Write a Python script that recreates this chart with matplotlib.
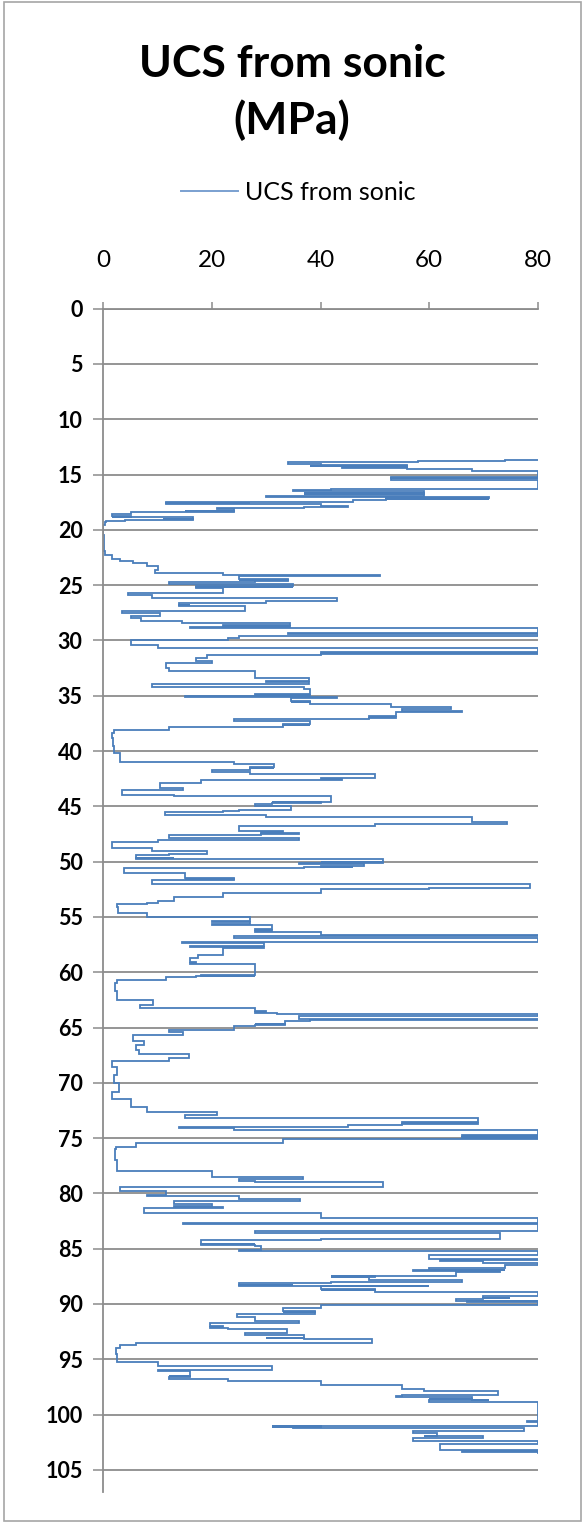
import matplotlib
matplotlib.use("Agg")
import matplotlib.pyplot as plt
from matplotlib.patches import Rectangle

# ---------------- data ----------------
depth = [13.7, 13.75, 13.85, 14.05, 14.15, 14.2, 14.25, 14.3, 14.4, 14.5, 14.7, 14.95, 15.2, 15.3, 15.35,
         15.45, 15.5, 16.3, 16.4, 16.5, 16.65, 16.7, 16.75, 16.8, 16.9, 17.0, 17.15, 17.2, 17.25, 17.3,
         17.45, 17.55, 17.6, 17.65, 17.7, 17.8, 17.9, 18.0, 18.1, 18.25, 18.3, 18.35, 18.4, 18.6, 18.75,
         18.8, 18.85, 19.0, 19.05, 19.1, 19.2, 19.3, 19.6, 20.5, 21.9, 22.3, 22.6, 22.8, 23.0, 23.3,
         23.6, 23.9, 24.1, 24.2, 24.45, 24.5, 24.55, 24.6, 24.7, 24.9, 25.1, 25.15, 25.2, 25.3, 25.7,
         25.9, 26.2, 26.4, 26.6, 26.75, 26.8, 26.9, 27.0, 27.3, 27.5, 27.8, 28.0, 28.2, 28.4, 28.6,
         28.7, 28.8, 28.9, 29.3, 29.45, 29.6, 29.8, 30.0, 30.4, 30.7, 31.0, 31.1, 31.2, 31.3, 31.6,
         31.9, 32.0, 32.5, 32.8, 33.4, 33.7, 33.8, 33.9, 34.2, 34.4, 34.8, 34.9, 35.0, 35.1, 35.2,
         35.45, 35.55, 35.6, 35.7, 36.0, 36.2, 36.35, 36.5, 36.85, 36.9, 37.0, 37.1, 37.3, 37.55, 37.6,
         37.65, 37.8, 38.1, 38.4, 38.8, 39.5, 40.2, 41.0, 41.2, 41.45, 41.5, 41.55, 41.7, 41.9, 42.1,
         42.4, 42.5, 42.6, 42.9, 43.3, 43.5, 44.0, 44.1, 44.6, 44.65, 44.7, 44.8, 45.0, 45.3, 45.4,
         45.5, 45.8, 46.0, 46.4, 46.6, 46.8, 47.2, 47.3, 47.4, 47.5, 47.6, 47.9, 48.0, 48.2, 48.8,
         49.0, 49.3, 49.4, 49.65, 49.7, 49.75, 49.8, 50.0, 50.05, 50.1, 50.2, 50.4, 50.45, 50.5, 50.6,
         51.0, 51.5, 51.55, 51.6, 51.65, 52.0, 52.4, 52.5, 52.7, 52.8, 53.2, 53.6, 53.7, 53.8, 54.1,
         54.6, 55.0, 55.4, 55.5, 55.6, 55.7, 56.1, 56.2, 56.3, 56.4, 56.6, 56.75, 56.9, 57.3, 57.4,
         57.65, 57.7, 57.8, 58.0, 58.4, 58.7, 59.1, 59.2, 59.3, 60.25, 60.3, 60.35, 60.4, 60.7, 61.0,
         61.7, 62.5, 63.0, 63.2, 63.5, 63.6, 63.7, 63.8, 64.0, 64.2, 64.3, 64.4, 64.65, 64.7, 64.8,
         64.9, 65.2, 65.4, 65.7, 66.2, 66.6, 67.0, 67.4, 67.8, 68.0, 68.6, 69.3, 70.0, 70.8, 71.5,
         72.2, 72.6, 72.9, 73.2, 73.5, 73.6, 73.7, 73.8, 74.0, 74.1, 74.3, 74.7, 74.8, 74.9, 75.0,
         75.1, 75.4, 75.8, 76.0, 77.0, 78.0, 78.5, 78.7, 78.9, 79.0, 79.4, 79.8, 80.15, 80.2, 80.25,
         80.5, 80.7, 81.0, 81.1, 81.2, 81.3, 81.8, 82.2, 82.7, 82.8, 83.4, 83.6, 84.1, 84.2, 84.55,
         84.6, 84.65, 84.8, 85.15, 85.2, 85.25, 85.6, 85.95, 86.0, 86.15, 86.3, 86.5, 86.7, 86.9, 86.95,
         87.0, 87.1, 87.45, 87.5, 87.55, 87.6, 87.8, 88.0, 88.1, 88.25, 88.3, 88.35, 88.4, 88.65, 88.7,
         88.75, 88.9, 89.3, 89.45, 89.5, 89.55, 89.7, 89.75, 89.8, 89.85, 90.1, 90.4, 90.65, 90.7, 90.75,
         90.9, 91.2, 91.5, 91.7, 92.0, 92.1, 92.15, 92.3, 92.6, 92.8, 93.05, 93.1, 93.15, 93.5, 93.7,
         94.0, 94.5, 95.2, 95.6, 96.0, 96.1, 96.5, 96.55, 96.6, 96.8, 97.0, 97.3, 97.7, 97.9, 98.2,
         98.3, 98.4, 98.55, 98.6, 98.65, 98.7, 98.9, 99.3, 100.6, 100.7, 101.0, 101.05, 101.1, 101.15, 101.2,
         101.5, 101.7, 101.9, 101.95, 102.1, 102.35, 102.4, 102.7, 103.2, 103.3, 103.35, 103.4, 103.5]

ucs = [80, 74, 58, 34, 40, 56, 38, 56, 44, 56, 68, 80, 80, 53, 80,
       53, 80, 80, 42, 35, 59, 37, 59, 37, 59, 30, 71, 52, 71, 52,
       46, 11.5, 27, 11.5, 27, 40, 45, 37, 21, 24, 15, 24, 15, 5, 1.5,
       5, 1.5, 16.5, 11, 16.5, 4, 0.5, 0.3, 0, 0.1, 0.3, 1.5, 3, 5.5, 8,
       10, 9.5, 22, 51, 25, 34, 25, 34, 28, 12, 35, 17, 35, 17, 22,
       4.5, 9, 43, 30, 14, 16, 14, 26, 26, 3.4, 10.4, 5, 7, 14.4, 34.4,
       22, 34.4, 16, 80, 34, 80, 25, 23, 5, 10, 80, 40, 80, 40, 19,
       17, 20, 11.5, 12, 28, 37.8, 30, 37.8, 9, 37, 38, 28, 38, 15, 43,
       34.5, 38, 34.5, 38, 53, 64, 55, 66, 54, 49, 54, 49, 24, 38, 33,
       38, 33, 12, 2, 1.5, 1.8, 2, 3, 24, 31.5, 27, 31.5, 27, 20, 27,
       50, 40, 44, 18, 10.4, 14.7, 3.4, 13, 42, 31, 40, 31, 28, 34.5, 25,
       22, 11.3, 30, 68, 74.4, 50, 25, 33, 29, 36, 29, 12, 36, 10, 1.5,
       9, 19, 12, 6, 13, 6, 13, 51.6, 40, 51.6, 36, 48, 40, 46, 37,
       3.7, 15, 24, 15, 24, 9, 78.7, 60, 40, 40, 22, 13, 10, 8, 2.5,
       2.6, 8, 27, 20, 27, 20, 31, 28, 31, 28, 40, 80, 24, 80, 14.4,
       29.5, 16, 29.5, 22, 22, 17.5, 16, 17, 16, 28, 18, 28, 17, 11.6, 2.5,
       2.1, 2.4, 9.2, 6.7, 28, 30, 28, 32, 80, 36, 80, 38, 33.5, 28, 33.5,
       28, 24, 12, 14.7, 5.5, 7.4, 6, 6.5, 15.7, 12, 1.5, 2.5, 2.0, 2.8, 1.5,
       5, 8, 21, 15, 69, 55, 69, 55, 45, 14, 24, 80, 66, 80, 66,
       80, 33, 6, 2.3, 2.1, 2.5, 20, 36.8, 25, 28, 51.6, 3, 11.6, 8, 11.6,
       25, 36.3, 13, 20, 13, 22, 7.4, 40, 80, 14.7, 80, 28, 73, 40, 18,
       28, 18, 28, 29, 25, 29, 80, 60, 80, 62, 70, 80, 74, 60, 74,
       57, 73, 65, 42, 50, 42, 49, 66, 42, 25, 35, 25, 60, 40, 50,
       40, 50, 80, 70, 75, 70, 65, 80, 67, 80, 80, 40, 33, 39, 33,
       39, 24.6, 28, 36, 19.7, 22, 19.7, 23, 33.8, 26, 37, 30, 37, 49.5, 6,
       3, 2.3, 2.5, 10, 31, 10, 16, 12, 16, 12, 23, 40, 55, 59, 72.8,
       55, 54, 68, 60, 68, 71, 60, 80, 80, 78, 80, 31, 40, 31, 35,
       77.5, 57, 61.5, 59, 70, 57, 62, 80, 62, 80, 66, 80, 80]

x_ticks = [0, 20, 40, 60, 80]
y_ticks = list(range(0, 110, 5))
series_name = "UCS from sonic"

# ---------------- figure ----------------
W, H, DPI = 584, 1524, 100
fig = plt.figure(figsize=(W / DPI, H / DPI), dpi=DPI)
plt.rcParams['font.family'] = ['Lato', 'DejaVu Sans']

# outer frame
fig.patches.append(Rectangle((4 / W, 1 - 1521 / H), 577 / W, 1519 / H, transform=fig.transFigure,
                             fill=False, edgecolor='#a6a6a6', linewidth=1.2))

ax_left, ax_right = 103.5 / W, 537.5 / W
ax_top_px, ax_bot_px = 308.7, 1492.0
ax = fig.add_axes([ax_left, 1 - ax_bot_px / H, ax_right - ax_left, (ax_bot_px - ax_top_px) / H])

line_color = '#4a7ebb'
ln, = ax.plot(ucs, depth, color=line_color, linewidth=1.3, label=series_name,
              drawstyle='steps-post', solid_joinstyle='miter')

ax.set_xlim(0, 80)
ax.set_ylim(107, 0)
ax.set_xticks(x_ticks)
ax.set_yticks(y_ticks)

ax.xaxis.tick_top()
grid_c = '#8c8c8c'
for s in ['right', 'bottom']:
    ax.spines[s].set_visible(False)
for s in ['left', 'top']:
    ax.spines[s].set_color(grid_c)
    ax.spines[s].set_linewidth(1.3)

ax.yaxis.grid(True, color=grid_c, linewidth=1.3)
ax.xaxis.grid(False)
ax.set_axisbelow(True)

ax.tick_params(axis='x', direction='out', length=5, width=1.1, color=grid_c, pad=22,
               labelsize=17.5, labelcolor='black')
ax.tick_params(axis='y', direction='out', length=7, width=1.1, color=grid_c, pad=8,
               labelsize=15.5, labelcolor='black')
for lab in ax.get_yticklabels():
    lab.set_fontweight('bold')

# title
fig.text(292 / W, 1 - 64 / H, "UCS from sonic", ha='center', va='center', fontsize=32,
         fontweight='bold')
fig.text(292 / W, 1 - 120 / H, "(MPa)", ha='center', va='center', fontsize=32,
         fontweight='bold')

# legend
leg = fig.legend(handles=[ln], labels=[series_name], loc='center',
                 bbox_to_anchor=(298 / W, 1 - 192 / H), frameon=False, fontsize=18,
                 handlelength=2.3, handletextpad=0.25, borderpad=0)
for h in leg.get_lines():
    h.set_color('#7aa0d0')
    h.set_linewidth(1.4)

fig.savefig('out.png', dpi=DPI)
